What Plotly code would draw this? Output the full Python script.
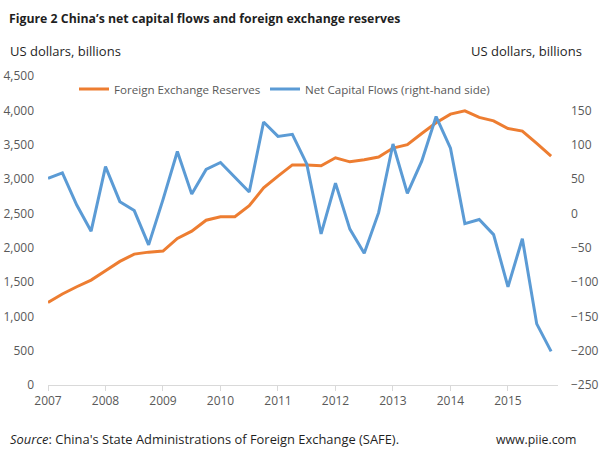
import plotly.graph_objects as go

years = [2007, 2008, 2009, 2010, 2011, 2012, 2013, 2014, 2015]
quarters = [y + q / 4 for y in years for q in range(4)]

fx_reserves = [1202, 1325, 1431, 1528,
               1664, 1800, 1906, 1935,
               1950, 2135, 2240, 2400,
               2450, 2452, 2610, 2870,
               3042, 3205, 3205, 3192,
               3309, 3250, 3280, 3320,
               3450, 3500, 3663, 3818,
               3945, 3993, 3897, 3847,
               3736, 3697, 3518, 3333]

net_flows = [51, 59, 12, -26,
             68, 17, 4, -46,
             20, 90, 28, 64,
             74, 53, 31, 133,
             112, 115, 72, -30,
             44, -23, -58, 1,
             101, 29, 76, 141,
             95, -15, -9, -31,
             -107, -37, -161, -201]

left_ticks = list(range(0, 4501, 500))
right_ticks = list(range(-250, 151, 50))

FONT = "Open Sans"
GRAY = "#595959"
DARK = "#1f1f1f"

L, R, T, B = 48, 42, 76, 73
W, H = 600, 458
pw, ph = W - L - R, H - T - B

def px(x):
    return (x - L) / pw

def py(y):
    return (H - B - y) / ph

fig = go.Figure()
fig.add_trace(go.Scatter(x=quarters, y=fx_reserves, name="Foreign Exchange Reserves",
                         mode="lines", line=dict(color="#ED7D31", width=3), legend="legend"))
fig.add_trace(go.Scatter(x=quarters, y=net_flows, name="Net Capital Flows (right-hand side)",
                         mode="lines", line=dict(color="#5B9BD5", width=3), yaxis="y2",
                         legend="legend2"))

leg_common = dict(orientation="h", yanchor="middle", xanchor="left",
                  font=dict(family=FONT, size=11.6, color=GRAY), bgcolor="rgba(0,0,0,0)",
                  borderwidth=0)

fig.update_layout(
    width=W, height=H,
    margin=dict(l=L, r=R, t=T, b=B, autoexpand=False),
    paper_bgcolor="white", plot_bgcolor="white",
    font=dict(family=FONT, size=12, color=GRAY),
    showlegend=True,
    legend=dict(x=px(74), y=py(89), **leg_common),
    legend2=dict(x=px(265), y=py(89), **leg_common),
    xaxis=dict(range=[2007, 2015.87], tickvals=years, ticktext=[str(y) for y in years],
               showgrid=False, zeroline=False, showline=True, linecolor="#d9d9d9", linewidth=1,
               ticks="outside", ticklen=5, tickcolor="#d9d9d9", automargin=False,
               tickfont=dict(family=FONT, size=12, color=GRAY)),
    yaxis=dict(range=[0, 4500], tickvals=left_ticks, tickformat=",", showgrid=False,
               zeroline=False, showline=False, ticklabelstandoff=13, automargin=False,
               tickfont=dict(family=FONT, size=12, color=GRAY)),
    yaxis2=dict(range=[-250, 200], tickvals=right_ticks, overlaying="y", side="right",
                showgrid=False, zeroline=False, showline=False, ticklabelstandoff=12,
                automargin=False, tickfont=dict(family=FONT, size=12, color=GRAY)),
)

annos = [
    dict(text="<b>Figure 2 China’s net capital flows and foreign exchange reserves</b>",
         x=px(7), y=py(18), xanchor="left", yanchor="middle", font=dict(size=12.3, color=DARK)),
    dict(text="US dollars, billions", x=px(8), y=py(51), xanchor="left", yanchor="middle",
         font=dict(size=13, color=DARK)),
    dict(text="US dollars, billions", x=px(584), y=py(51), xanchor="right", yanchor="middle",
         font=dict(size=13, color=DARK)),
    dict(text="<i>Source</i>: China's State Administrations of Foreign Exchange (SAFE).",
         x=px(8), y=py(439), xanchor="left", yanchor="middle", font=dict(size=12.9, color=DARK)),
    dict(text="www.piie.com", x=px(578), y=py(439), xanchor="right", yanchor="middle",
         font=dict(size=12.3, color=DARK)),
]
for a in annos:
    a.update(xref="paper", yref="paper", showarrow=False)
    a["font"]["family"] = FONT
    fig.add_annotation(**a)

fig.write_html("out.html", config={"displayModeBar": False},
               post_script="document.body.style.margin='0';document.body.style.overflow='hidden';")
